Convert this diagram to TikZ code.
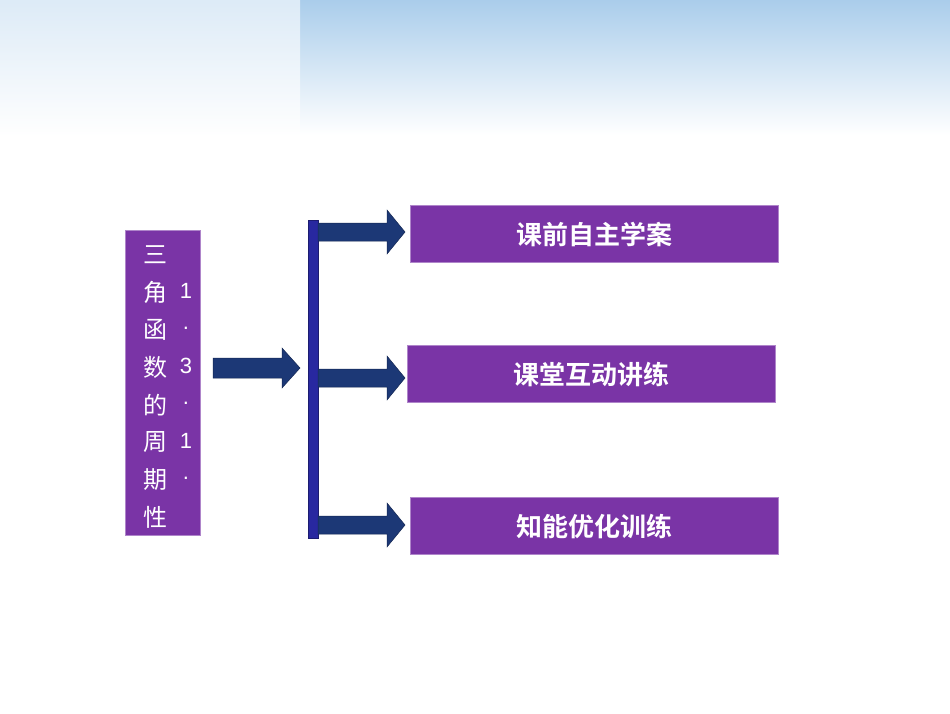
\documentclass[tikz,border=0pt]{standalone}
\usepackage{fontspec}
\newfontfamily\cjk{Noto Sans CJK SC}
\newfontfamily\cjkb{Noto Sans CJK SC Bold}
\newfontfamily\lat{Liberation Sans}
\definecolor{purp}{RGB}{122,52,166}
\definecolor{navy}{RGB}{28,56,118}
\definecolor{barblue}{RGB}{40,40,160}
\definecolor{sky}{RGB}{170,205,235}
\begin{document}
\begin{tikzpicture}[x=1pt,y=-1pt,
  pbox/.style={fill=purp,draw=purp!60!white,line width=1pt},
  btext/.style={text=white,font=\cjkb\fontsize{26}{30}\selectfont},
  vtext/.style={text=white,font=\cjk\fontsize{24}{28}\selectfont,inner sep=0pt},
  ntext/.style={text=white,font=\lat\fontsize{22}{26}\selectfont,inner sep=0pt},
  arr/.style={fill=navy,draw=navy!70!black,line width=0.5pt}]
\useasboundingbox (0,0) rectangle (950,713);
\fill[white] (0,0) rectangle (950,713);
\shade[top color=sky,bottom color=white] (0,0) rectangle (950,135);
\shade[left color=white,right color=white,middle color=white,opacity=0.6] (0,0) rectangle (300,135);
% left box
\node[pbox,minimum width=75pt,minimum height=305pt,anchor=north west,inner sep=0pt] (lb) at (125,230) {};
\foreach \c [count=\i from 0] in {三,角,函,数,的,周,期,性}
  \node[vtext] (c\i) at (155,{255+37.5*\i}) {\c};
\foreach \c [count=\i from 1] in {1,.,3,.,1,.}
  \node[ntext] (n\i) at (186,{253+37.5*\i}) {\c};
% main arrow
\fill[arr] (213,358) -- (282,358) -- (282,348) -- (300,368) -- (282,388) -- (282,378) -- (213,378) -- cycle;
% bar
\node[fill=barblue,draw=barblue!70!black,minimum width=10pt,minimum height=318pt,inner sep=0pt,anchor=north west] (bar) at (308,220) {};
% branch arrows
\foreach \y in {232,378,525}
  \fill[arr] (318,\y-9) -- (387,\y-9) -- (387,\y-22) -- (405,\y) -- (387,\y+22) -- (387,\y+9) -- (318,\y+9) -- cycle;
% boxes
\node[pbox,btext,minimum width=368pt,minimum height=57pt,anchor=north west,inner sep=0pt] (b1) at (410,205) {课前自主学案};
\node[pbox,btext,minimum width=368pt,minimum height=57pt,anchor=north west,inner sep=0pt] (b2) at (407,345) {课堂互动讲练};
\node[pbox,btext,minimum width=368pt,minimum height=57pt,anchor=north west,inner sep=0pt] (b3) at (410,497) {知能优化训练};
\end{tikzpicture}
\end{document}
